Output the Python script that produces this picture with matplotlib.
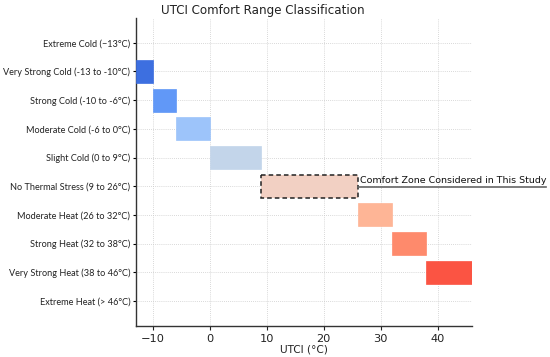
import matplotlib
matplotlib.use("Agg")
import matplotlib.pyplot as plt

categories = [
    "Extreme Cold (\u221213\u00b0C)",
    "Very Strong Cold (-13 to -10\u00b0C)",
    "Strong Cold (-10 to -6\u00b0C)",
    "Moderate Cold (-6 to 0\u00b0C)",
    "Slight Cold (0 to 9\u00b0C)",
    "No Thermal Stress (9 to 26\u00b0C)",
    "Moderate Heat (26 to 32\u00b0C)",
    "Strong Heat (32 to 38\u00b0C)",
    "Very Strong Heat (38 to 46\u00b0C)",
    "Extreme Heat (> 46\u00b0C)",
]
starts = [None, -13, -10, -6, 0, 9, 26, 32, 38, None]
ends = [None, -10, -6, 0, 9, 26, 32, 38, 46, None]
colors = [None, "#3d6fe0", "#6198f7", "#9dc4fa", "#c3d5ea",
          "#f2d0c3", "#feb596", "#fe8a6c", "#fb5443", None]
xticks = [-10, 0, 10, 20, 30, 40]
comfort_label = "Comfort Zone Considered in This Study"
comfort_index = 5

fig = plt.figure(figsize=(5.5, 3.57), dpi=100)
ax = fig.add_axes([0.247, 0.087, 0.611, 0.863])

for i, (s, e, c) in enumerate(zip(starts, ends, colors)):
    if s is None:
        continue
    if i == comfort_index:
        ax.barh(i, e - s, left=s, height=0.8, color=c, edgecolor="#222222",
                linestyle=(0, (3, 2)), linewidth=1.1, zorder=3)
    else:
        ax.barh(i, e - s, left=s, height=0.8, color=c, edgecolor=c,
                linewidth=0.5, zorder=3)

ax.set_yticks(range(len(categories)))
ax.set_yticklabels(categories, fontfamily="Lato", fontsize=6.6, color="#222222")
ax.set_xticks(xticks)
ax.tick_params(axis="x", labelsize=8.2, colors="#222222", length=3, pad=2.5)
ax.tick_params(axis="y", length=2, pad=2)
ax.set_xlim(-13, 46)
ax.set_ylim(9.87, -0.87)
ax.grid(True, linestyle=(0, (1, 1.5)), color="#cccccc", linewidth=0.6, zorder=0)
for sp in ["top", "right"]:
    ax.spines[sp].set_visible(False)
for sp in ["left", "bottom"]:
    ax.spines[sp].set_color("#333333")
    ax.spines[sp].set_linewidth(1.0)

fig.text(0.477, 0.952, "UTCI Comfort Range Classification", fontsize=8.6,
         color="#222222", ha="center", va="bottom")
ax.set_xlabel("UTCI (\u00b0C)", fontsize=7.6, color="#222222", labelpad=0.5)

# annotation
ax.text(ends[comfort_index] + 0.4, comfort_index - 0.05, comfort_label,
        fontsize=6.8, va="bottom", ha="left", color="#111111", clip_on=False)
ax.plot([ends[comfort_index], 59.0], [comfort_index + 0.03, comfort_index + 0.03],
        color="#666666", linewidth=1.2, clip_on=False, zorder=4)

fig.savefig("out.png", dpi=100)
